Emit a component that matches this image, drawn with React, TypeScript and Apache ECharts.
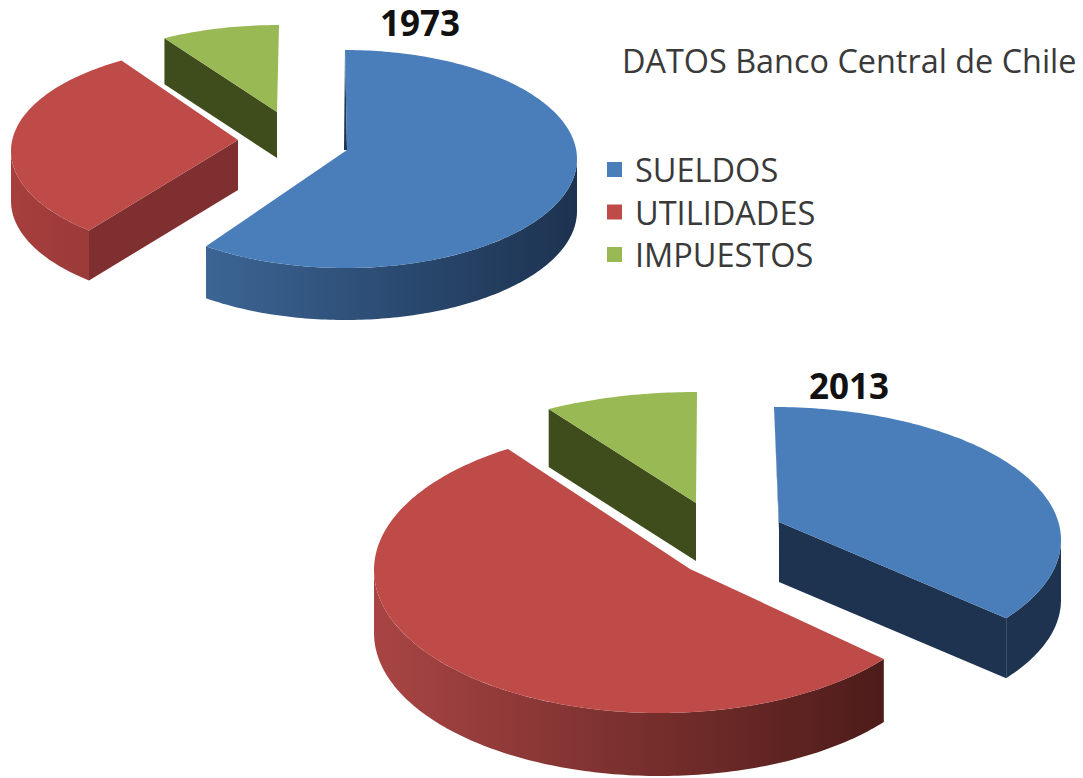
import React, { useEffect, useRef } from "react";
import * as echarts from "echarts";

const years = ["1973", "2013"];
const categories = ["SUELDOS", "UTILIDADES", "IMPUESTOS"];
const sueldos = [60.5, 35];
const utilidades = [31, 55.8];
const impuestos = [8.5, 9.2];
const seriesValues = [sueldos, utilidades, impuestos];
const topColors = ["#4a7ebb", "#be4b48", "#98b954"];

type Slice = {
  cx: number; cy: number; rx: number; ry: number;
  ax: number; ay: number; depth: number;
  adj0: number; adj1: number;
  cut: "start" | "end" | null;
  cutColor?: string;
  sliver?: [number, number];
  wall?: string[];
};

// Perspective layout: [category][year]
const layouts: Slice[][] = [
  [
    { cx: 345, cy: 159, rx: 232, ry: 109, ax: 347, ay: 150, depth: 52, adj0: 0, adj1: -1, cut: null, sliver: [344, 150], wall: ["#3c6594", "#2b4b72", "#1d3250"] },
    { cx: 774, cy: 540, rx: 287, ry: 133, ax: 779, ay: 522, depth: 60, adj0: 0, adj1: 0, cut: "end", cutColor: "#1e3350", sliver: [781, 580], wall: ["#1e3350", "#1e3350"] },
  ],
  [
    { cx: 236, cy: 151, rx: 225, ry: 105, ax: 238, ay: 140, depth: 50, adj0: 3, adj1: 0, cut: "start", cutColor: "#7f2f2f", wall: ["#a63f3e", "#9a3a39"] },
    { cx: 660, cy: 570, rx: 286, ry: 143, ax: 690, ay: 569, depth: 63, adj0: 2.5, adj1: 1, cut: null, wall: ["#a84544", "#7a302e", "#4d1c1a"] },
  ],
  [
    { cx: 279, cy: 120, rx: 225, ry: 95, ax: 277, ay: 112, depth: 46, adj0: 0, adj1: 0, cut: "start", cutColor: "#3f4c1c" },
    { cx: 697, cy: 510, rx: 287, ry: 118, ax: 696, ay: 503, depth: 58, adj0: 2, adj1: 0, cut: "start", cutColor: "#3f4c1c" },
  ],
];

const rim = (s: Slice, deg: number, dy = 0): number[] => {
  const t = (deg * Math.PI) / 180;
  return [s.cx + s.rx * Math.sin(t), s.cy - s.ry * Math.cos(t) + dy];
};

const arc = (s: Slice, a: number, b: number, dy = 0): number[][] => {
  const pts: number[][] = [];
  const n = Math.max(2, Math.ceil(Math.abs(b - a)));
  for (let i = 0; i <= n; i++) pts.push(rim(s, a + ((b - a) * i) / n, dy));
  return pts;
};

const makeRenderItem = (catIndex: number) => (params: any, api: any) => {
  const yearIndex = params.dataIndex;
  const s = layouts[catIndex][yearIndex];
  const total = seriesValues.reduce((acc, v) => acc + v[yearIndex], 0);
  let before = 0;
  for (let i = 0; i < catIndex; i++) before += seriesValues[i][yearIndex];
  const value = api.value(0);
  const a0 = (before / total) * 360 + s.adj0;
  const a1 = ((before + value) / total) * 360 + s.adj1;
  const children: any[] = [];

  if (s.cut) {
    const p = rim(s, s.cut === "start" ? a0 : a1);
    children.push({
      type: "polygon",
      shape: { points: [[s.ax, s.ay], p, [p[0], p[1] + s.depth], [s.ax, s.ay + s.depth]] },
      style: { fill: s.cutColor },
    });
  }
  if (s.sliver) {
    children.push({
      type: "polygon",
      shape: { points: [rim(s, a0), [s.ax, s.ay], s.sliver] },
      style: { fill: "#1e3350" },
    });
  }
  const w0 = Math.max(a0, 90);
  const w1 = Math.min(a1, 270);
  if (w1 > w0 && s.wall) {
    const top = arc(s, w0, w1);
    const bottom = arc(s, w1, w0, s.depth);
    const stops = s.wall.map((color, i) => ({ offset: i / (s.wall!.length - 1), color }));
    children.push({
      type: "polygon",
      shape: { points: top.concat(bottom) },
      style: { fill: new echarts.graphic.LinearGradient(0, 0, 1, 0, stops) },
    });
  }
  children.push({
    type: "polygon",
    shape: { points: [[s.ax, s.ay], ...arc(s, a0, a1)] },
    style: { fill: topColors[catIndex] },
  });
  return { type: "group", children };
};

export default function App() {
  const ref = useRef<HTMLDivElement>(null);
  useEffect(() => {
    const chart = echarts.init(ref.current!, undefined, { renderer: "svg" });
    chart.setOption({
      animation: false,
      backgroundColor: "#ffffff",
      title: [
        {
          text: years[0], left: 420, top: 22, textAlign: "center", textVerticalAlign: "middle", padding: 0,
          textStyle: { fontFamily: "Open Sans", fontWeight: "bold", fontSize: 35, color: "#111111" },
        },
        {
          text: years[1], left: 849, top: 385, textAlign: "center", textVerticalAlign: "middle", padding: 0,
          textStyle: { fontFamily: "Open Sans", fontWeight: "bold", fontSize: 35, color: "#111111" },
        },
        {
          text: "DATOS Banco Central de Chile", left: 622, top: 60, textVerticalAlign: "middle", padding: 0,
          textStyle: { fontFamily: "Open Sans", fontWeight: "normal", fontSize: 32.4, color: "#3a3a3a" },
        },
      ],
      legend: {
        orient: "vertical",
        left: 607,
        top: 153,
        padding: 0,
        icon: "rect",
        itemWidth: 15,
        itemHeight: 15,
        itemGap: 9.5,
        selectedMode: false,
        data: categories,
        textStyle: { fontFamily: "Open Sans", fontSize: 32.5, lineHeight: 32, color: "#3a3a3a", padding: [0, 0, 0, 8] },
      },
      series: categories.map((name, i) => ({
        type: "custom",
        name,
        coordinateSystem: "none",
        silent: true,
        itemStyle: { color: topColors[i] },
        data: seriesValues[i],
        renderItem: makeRenderItem(i),
      })),
    });
    return () => chart.dispose();
  }, []);
  return <div ref={ref} style={{ position: "absolute", left: 0, top: 0, width: 1083, height: 778 }} />;
}
